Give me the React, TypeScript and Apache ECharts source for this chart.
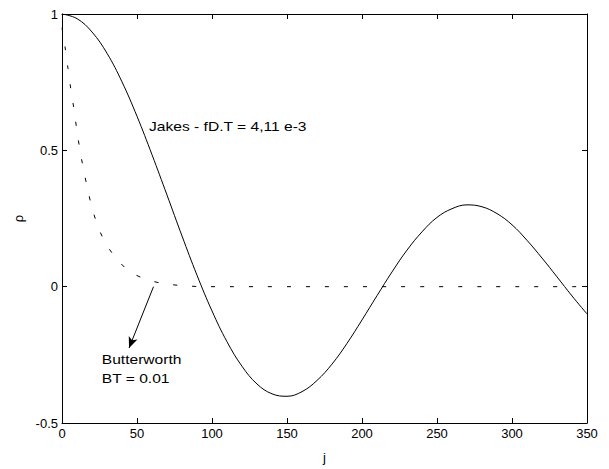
import React, { useEffect, useRef } from "react";
import * as echarts from "echarts";

// Jakes model correlation
const jakesJ = [0, 10, 20, 30, 40, 50, 60, 70, 80, 90, 100, 110, 120, 130, 140, 150, 160, 170, 180, 190, 200, 210, 220, 230, 240, 250, 260, 270, 280, 290, 300, 310, 320, 330, 340, 350];
const jakesRho = [1, 0.983, 0.934, 0.856, 0.751, 0.625, 0.484, 0.336, 0.186, 0.042, -0.089, -0.202, -0.292, -0.357, -0.393, -0.402, -0.385, -0.344, -0.284, -0.208, -0.122, -0.033, 0.054, 0.134, 0.201, 0.254, 0.286, 0.3, 0.293, 0.268, 0.227, 0.17, 0.105, 0.036, -0.034, -0.1];

// Butterworth correlation
const bwJ = [0, 2, 4, 6, 8, 10, 12, 14, 17, 20, 24, 29, 36, 45, 56, 68, 80, 95, 350];
const bwRho = [0.95, 0.88, 0.8, 0.72, 0.65, 0.57, 0.5, 0.44, 0.36, 0.29, 0.22, 0.16, 0.105, 0.056, 0.027, 0.011, 0.004, 0, 0];

// Annotations (data coordinates)
const jakesLabel = { text: "Jakes - fD.T = 4,11 e-3", at: [58, 0.588] };
const bwLabel = { lines: ["Butterworth", "BT = 0.01"], at: [26.5, -0.268], at2: [26.5, -0.335] };
const arrowFrom = [61, 0];
const arrowTo = [44.7, -0.225];

const FONT = "'Liberation Sans', Arial, Helvetica, sans-serif";

export default function App() {
  const ref = useRef<HTMLDivElement>(null);
  useEffect(() => {
    const chart = echarts.init(ref.current!, null, { renderer: "svg" });
    const axisCommonX = {
      type: "value",
      min: 0,
      max: 350,
      interval: 50,
      splitLine: { show: false },
      axisLine: { show: true, onZero: false, lineStyle: { color: "#000", width: 1 } },
      axisTick: { show: true, inside: true, length: 5, lineStyle: { color: "#000" } },
    };
    const axisCommonY = {
      type: "value",
      min: -0.5,
      max: 1,
      interval: 0.5,
      splitLine: { show: false },
      axisLine: { show: true, onZero: false, lineStyle: { color: "#000", width: 1 } },
      axisTick: { show: true, inside: true, length: 5, lineStyle: { color: "#000" } },
    };
    chart.setOption({
      animation: false,
      backgroundColor: "#fff",
      grid: { left: 62, top: 14, right: 22, bottom: 44, containLabel: false },
      xAxis: [
        {
          ...axisCommonX,
          position: "bottom",
          name: "j",
          nameLocation: "middle",
          nameGap: 28,
          nameTextStyle: { color: "#000", fontSize: 13, fontFamily: FONT },
          axisLabel: { color: "#000", fontSize: 13, fontFamily: FONT, margin: 4 },
        },
        { ...axisCommonX, position: "top", axisLabel: { show: false } },
      ],
      yAxis: [
        {
          ...axisCommonY,
          position: "left",
          name: "ρ",
          nameLocation: "middle",
          nameGap: 36,
          nameTextStyle: { color: "#000", fontSize: 13, fontFamily: FONT },
          axisLabel: { color: "#000", fontSize: 13, fontFamily: FONT, margin: 4 },
        },
        { ...axisCommonY, position: "right", axisLabel: { show: false } },
      ],
      series: [
        {
          type: "line",
          data: jakesJ.map((j, i) => [j, jakesRho[i]]),
          showSymbol: false,
          smooth: 0.4,
          lineStyle: { color: "#000", width: 1 },
          silent: true,
        },
        {
          type: "line",
          data: bwJ.map((j, i) => [j, bwRho[i]]),
          showSymbol: false,
          smooth: 0.3,
          lineStyle: { color: "#000", width: 1, type: [4, 15] },
          silent: true,
          markLine: {
            silent: true,
            symbol: ["none", "arrow"],
            symbolSize: [7, 11],
            label: { show: false },
            lineStyle: { color: "#000", width: 1, type: "solid" },
            data: [[{ coord: arrowFrom }, { coord: arrowTo }]],
          },
        },
      ],
    });
    const f = { xAxisIndex: 0, yAxisIndex: 0 };
    const p1 = chart.convertToPixel(f, jakesLabel.at) as number[];
    const p2 = chart.convertToPixel(f, bwLabel.at) as number[];
    const p3 = chart.convertToPixel(f, bwLabel.at2) as number[];
    const ts = { fill: "#000", fontSize: 13, fontFamily: FONT, verticalAlign: "middle", align: "left" };
    chart.setOption({
      graphic: [
        { type: "text", x: p1[0], y: p1[1], scaleX: 1.2, style: { ...ts, text: jakesLabel.text } },
        { type: "text", x: p2[0], y: p2[1], scaleX: 1.2, style: { ...ts, text: bwLabel.lines[0] } },
        { type: "text", x: p3[0], y: p3[1], scaleX: 1.2, style: { ...ts, text: bwLabel.lines[1] } },
      ],
    });
    return () => chart.dispose();
  }, []);
  return <div ref={ref} style={{ position: "absolute", left: 0, top: 0, width: 609, height: 469 }} />;
}
